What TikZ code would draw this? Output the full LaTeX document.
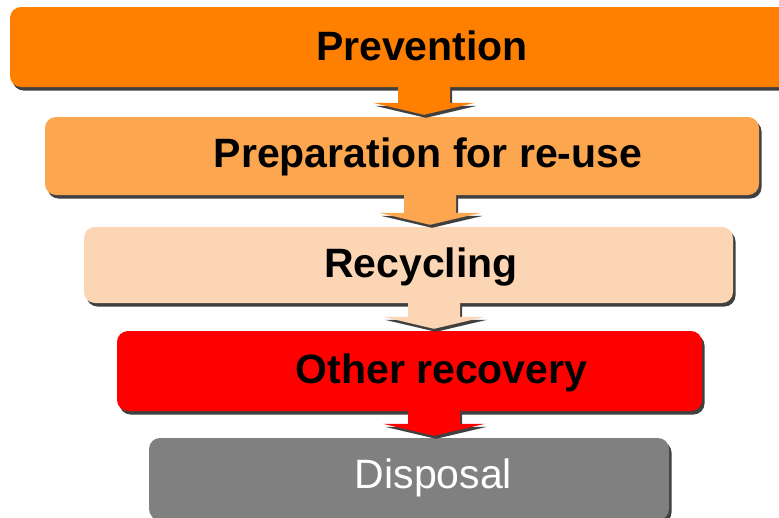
\documentclass[tikz,border=0pt]{standalone}
\usepackage{fontspec}
\usepackage{tikz}
\usetikzlibrary{calc,shadows}
\setmainfont{Liberation Sans}
\definecolor{Prevent}{RGB}{255,128,0}
\definecolor{Prepare}{RGB}{253,166,80}
\definecolor{Recycle}{RGB}{252,213,180}
\definecolor{Recover}{RGB}{255,0,0}
\definecolor{Dispose}{RGB}{128,128,128}
\definecolor{ShadowGray}{RGB}{64,64,64}

\tikzset{
  tierbox/.style={rounded corners=11pt,inner sep=0pt,
    drop shadow={shadow xshift=2.5pt,shadow yshift=-3.5pt,fill=ShadowGray,opacity=1}},
  tiertext/.style={anchor=base,inner sep=0pt,font=\fontsize{41}{41}\selectfont\bfseries},
  arrowshade/.style={drop shadow={shadow xshift=2pt,shadow yshift=-3pt,fill=ShadowGray,opacity=1}}
}

% block arrow from the bottom of #1 to the top of #2, centred at x=#3
\newcommand\tierarrow[4]{%
  \fill[#4,arrowshade] let \p1=(#1.south), \p2=(#2.north) in
    (#3pt-26pt,\y1+2pt) -- (#3pt-26pt,\y2+14pt) -- (#3pt-51pt,\y2+14pt)
    -- (#3pt,\y2+2pt) -- (#3pt+51pt,\y2+14pt) -- (#3pt+26pt,\y2+14pt)
    -- (#3pt+26pt,\y1+2pt) -- cycle;}

\begin{document}
\begin{tikzpicture}[x=1pt,y=-1pt]
  \clip (0,0) rectangle (779,517);
  \fill[white] (0,0) rectangle (779,517);

  \node[tierbox,fill=Prevent,minimum width=790pt,minimum height=80pt] (prevent) at (405,47) {};
  \node[tierbox,fill=Prepare,minimum width=714pt,minimum height=78pt] (prepare) at (402,156) {};
  \node[tierbox,fill=Recycle,minimum width=649pt,minimum height=76pt] (recycle) at (408.5,265) {};
  \node[tierbox,fill=Recover,minimum width=585pt,minimum height=80pt] (recover) at (409.5,371) {};
  \node[tierbox,fill=Dispose,minimum width=520pt,minimum height=82pt] (dispose) at (409,479) {};

  \tierarrow{prevent}{prepare}{424}{Prevent}
  \tierarrow{prepare}{recycle}{430}{Prepare}
  \tierarrow{recycle}{recover}{434}{Recycle}
  \tierarrow{recover}{dispose}{434}{Recover}

  \node[tiertext] (preventtxt) at (422,60) {Prevention};
  \node[tiertext] (preparetxt) at (428,167) {Preparation for re-use};
  \node[tiertext] (recycletxt) at (421,277) {Recycling};
  \node[tiertext] (recovertxt) at (441.5,383) {Other recovery};
  \node[tiertext,font=\fontsize{41}{41}\selectfont,text=white] (disposetxt) at (433.5,488) {Disposal};
\end{tikzpicture}
\end{document}
